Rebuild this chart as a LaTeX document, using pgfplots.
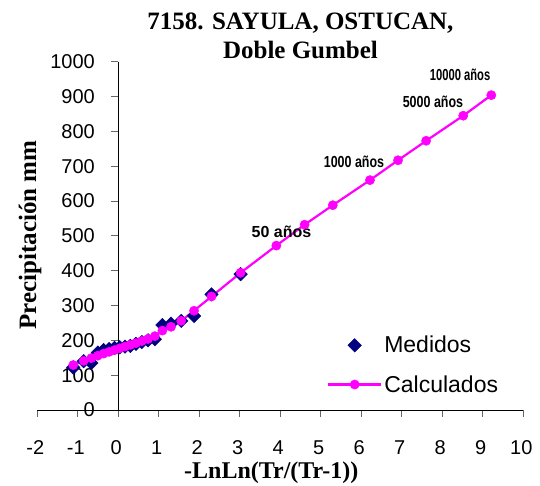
\documentclass[border=0pt]{standalone}
\usepackage{fontspec}
\setmainfont{Liberation Sans}
\newfontfamily\serifbf{Liberation Serif}
\usepackage{pgfplots}
\pgfplotsset{compat=1.18}
\definecolor{navyb}{RGB}{0,0,128}
\definecolor{mag}{RGB}{255,0,255}
\pgfplotsset{
  dotlegend/.style={legend image code/.code={\draw[##1] plot coordinates {(26.5pt,0pt)};}},
  linelegend/.style={legend image code/.code={\draw[mark repeat=2,mark phase=2,##1] plot coordinates {(0pt,0pt) (26.5pt,0pt) (53pt,0pt)};}},
}

\begin{document}
\begin{tikzpicture}
\begin{axis}[
  scale only axis, width=486pt, height=348.3pt,
  xmin=-2, xmax=10, ymin=0, ymax=1000,
  axis x line=middle, axis y line=middle,
  axis line style={-, black, line width=0.8pt},
  hide obscured x ticks=false, hide obscured y ticks=false,
  xtick={-2,...,10}, ytick={0,100,...,1000},
  tick align=outside, major tick length=7pt,
  tick style={black!60, line width=0.8pt},
  /pgf/number format/assume math mode=true,
  /pgf/number format/1000 sep={},
  ticklabel style={font=\fontsize{20}{24}\selectfont},
  xticklabel style={yshift=-20pt, xshift=-2pt},
  yticklabel style={xshift=-13pt},
  clip=false,
  legend style={draw=none, fill=none, at={(axis cs:5.15,218)}, anchor=north west,
    font=\fontsize{23}{27}\selectfont, row sep=17pt, inner sep=0pt},
  legend cell align=left,
]
\coordinate (O) at (axis cs:-2,0);
\addplot[only marks, mark=square*, mark size=4.8pt, color=navyb,
  mark options={rotate=45, fill=navyb, draw=navyb}, dotlegend]
  coordinates {
  (-1.113,122) (-0.855,140) (-0.666,135) (-0.506,165) (-0.361,172)
  (-0.225,175) (-0.094,178) (0.036,180) (0.166,182) (0.298,184)
  (0.436,190) (0.581,195) (0.735,200) (0.903,203) (1.089,244)
  (1.302,248) (1.554,256) (1.870,270) (2.302,332) (3.020,390)
  };
\addlegendentry{Medidos}
\addplot[color=mag, line width=2.2pt, mark=*, mark size=4.6pt,
  mark options={fill=mag, draw=mag, line width=0.5pt}, linelegend]
  coordinates {
  (-1.113,129) (-0.855,141) (-0.666,149) (-0.506,156) (-0.361,162)
  (-0.225,167) (-0.094,172) (0.036,177) (0.166,182) (0.298,187)
  (0.436,192) (0.581,198) (0.735,204) (0.903,212) (1.089,228)
  (1.302,239) (1.554,256) (1.870,285) (2.302,326) (3.020,394)
  (3.902,472) (4.600,532) (5.296,588) (6.214,660) (6.907,717)
  (7.601,773) (8.517,845) (9.210,904)
  };
\addlegendentry{Calculados}
\node[font=\bfseries\fontsize{16}{18}\selectfont] at (axis cs:4.03,512) {\scalebox{1.0}[1]{50 años}};
\node[font=\bfseries\fontsize{16}{18}\selectfont] at (axis cs:5.82,713) {\scalebox{0.78}[1]{1000 años}};
\node[font=\bfseries\fontsize{16}{18}\selectfont] at (axis cs:7.77,885) {\scalebox{0.78}[1]{5000 años}};
\node[font=\bfseries\fontsize{16}{18}\selectfont] at (axis cs:8.44,962) {\scalebox{0.70}[1]{10000 años}};
\end{axis}
\node[font=\serifbf\bfseries\fontsize{25}{28}\selectfont, anchor=base] at ([shift={(263.2pt,380.7pt)}]O) {7158. SAYULA, OSTUCAN,};
\node[font=\serifbf\bfseries\fontsize{25}{28}\selectfont, anchor=base] at ([shift={(263.2pt,351.7pt)}]O) {Doble Gumbel};
\node[font=\serifbf\bfseries\fontsize{25}{28}\selectfont, rotate=90] at ([shift={(-7.3pt,175pt)}]O) {Precipitación mm};
\node[font=\serifbf\bfseries\fontsize{24}{28}\selectfont] at ([shift={(234pt,-63pt)}]O) {-LnLn(Tr/(Tr-1))};
\pgfresetboundingbox
\path ([shift={(-37.3pt,-75pt)}]O) rectangle ([shift={(502.7pt,410pt)}]O);
\end{tikzpicture}
\end{document}
